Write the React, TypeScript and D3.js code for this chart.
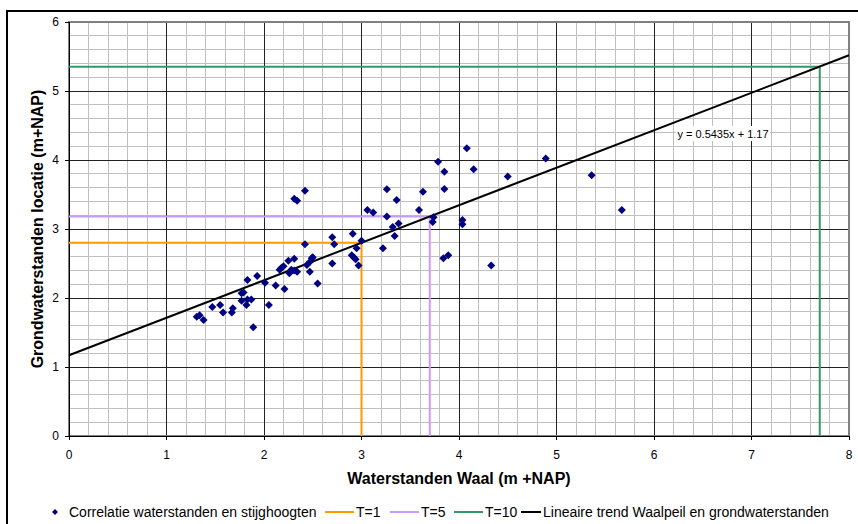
import React from 'react';
import * as d3 from 'd3';

// metingen: waterstand Waal (x) en grondwaterstand locatie (y)
const waalX = [
  1.31, 1.34, 1.38, 1.47, 1.55, 1.58, 1.67, 1.68, 1.77, 1.79, 1.77, 1.82, 1.83, 1.87, 1.83, 1.89,
  1.93, 2.01, 2.05, 2.12, 2.21, 2.16, 2.18, 2.2, 2.25, 2.31, 2.26, 2.28, 2.31, 2.34, 2.31, 2.34,
  2.42, 2.42, 2.44, 2.47, 2.49, 2.5, 2.47, 2.55, 2.7, 2.72, 2.7, 2.91, 2.9, 2.92, 2.94, 2.95,
  2.97, 3.0, 3.06, 3.12, 3.22, 3.26, 3.26, 3.36, 3.32, 3.34, 3.38, 3.59, 3.63, 3.74, 3.73, 3.785,
  3.85, 3.85, 3.84, 3.89, 4.035, 4.035, 4.08, 4.15, 4.33, 4.5, 4.89, 5.36, 5.67,
];
const grondY = [
  1.73, 1.75, 1.68, 1.87, 1.9, 1.79, 1.79, 1.85, 2.07, 2.08, 1.96, 1.9, 1.98, 1.98, 2.26, 1.575,
  2.32, 2.22, 1.9, 2.18, 2.13, 2.41, 2.44, 2.46, 2.54, 2.57, 2.36, 2.41, 2.4, 2.38, 3.44, 3.41,
  3.555, 2.78, 2.48, 2.52, 2.575, 2.59, 2.38, 2.21, 2.88, 2.78, 2.5, 2.93, 2.62, 2.59, 2.56, 2.72,
  2.47, 2.83, 3.275, 3.24, 2.72, 3.575, 3.18, 3.42, 3.03, 2.9, 3.08, 3.275, 3.54, 3.17, 3.1, 3.975,
  3.83, 3.58, 2.575, 2.62, 3.13, 3.07, 4.17, 3.865, 2.47, 3.76, 4.02, 3.78, 3.275,
];

// herhalingstijden
const tLabels = ['T=1', 'T=5', 'T=10'];
const tX = [3.0, 3.7, 7.7];
const tY = [2.8, 3.18, 5.35];
const tColors = ['#FF9900', '#CC99FF', '#339966'];

const trendSlope = 0.5435;
const trendIntercept = 1.17;
const trendLabel = 'y = 0.5435x + 1.17';
const scatterLabel = 'Correlatie waterstanden en stijghoogten';
const trendLegend = 'Lineaire trend Waalpeil en grondwaterstanden';

const xTicks = [0, 1, 2, 3, 4, 5, 6, 7, 8];
const yTicks = [0, 1, 2, 3, 4, 5, 6];

const W = 858;
const H = 524;
const m = { left: 69, right: 849, top: 22, bottom: 436 };
const font = 'Arial, "Liberation Sans", sans-serif';

const diamondPath = (r: number) => `M0,${-r}L${r},0L0,${r}L${-r},0Z`;

export default function App() {
  const x = d3.scaleLinear().domain([0, 8]).range([m.left, m.right]);
  const y = d3.scaleLinear().domain([0, 6]).range([m.bottom, m.top]);

  const minorX = d3.range(0, 8.001, 0.2).filter(v => Math.abs(v - Math.round(v)) > 1e-6);
  const minorY = d3.range(0, 6.001, 0.2).filter(v => Math.abs(v - Math.round(v)) > 1e-6);

  const trend = d3.line<number>().x(d => x(d)).y(d => y(trendSlope * d + trendIntercept));

  // legenda: lijnstukje + tekst
  const legendItems = [
    { text: tLabels[0], lx: 325, len: 29, color: tColors[0] },
    { text: tLabels[1], lx: 390, len: 29, color: tColors[1] },
    { text: tLabels[2], lx: 454, len: 29, color: tColors[2] },
    { text: trendLegend, lx: 521, len: 20, color: '#000' },
  ];
  const ly = 512;

  return (
    <svg width={W} height={H} style={{ position: 'absolute', left: 0, top: 0, background: '#fff' }}
      fontFamily={font}>
      <rect x={7} y={11} width={W + 10} height={H + 10} fill="#fff" stroke="#000" strokeWidth={2} />

      <g shapeRendering="crispEdges">
        {minorX.map(v => (
          <line key={'mx' + v} x1={x(v)} x2={x(v)} y1={m.top} y2={m.bottom} stroke="#c0c0c0" />
        ))}
        {minorY.map(v => (
          <line key={'my' + v} x1={m.left} x2={m.right} y1={y(v)} y2={y(v)} stroke="#c0c0c0" />
        ))}
        {xTicks.map(v => (
          <line key={'gx' + v} x1={x(v)} x2={x(v)} y1={m.top} y2={m.bottom} stroke="#222" />
        ))}
        {yTicks.map(v => (
          <line key={'gy' + v} x1={m.left} x2={m.right} y1={y(v)} y2={y(v)} stroke="#222" />
        ))}
        <rect x={m.left} y={m.top} width={m.right - m.left} height={m.bottom - m.top}
          fill="none" stroke="#808080" strokeWidth={1.5} />
        <line x1={m.left} x2={m.left} y1={m.top} y2={m.bottom} stroke="#000" />
        <line x1={m.left} x2={m.right} y1={m.bottom} y2={m.bottom} stroke="#000" />
        {xTicks.map(v => (
          <line key={'tx' + v} x1={x(v)} x2={x(v)} y1={m.bottom} y2={m.bottom + 4} stroke="#000" />
        ))}
        {yTicks.map(v => (
          <line key={'ty' + v} x1={m.left - 4} x2={m.left} y1={y(v)} y2={y(v)} stroke="#000" />
        ))}
      </g>

      {tX.map((tx, i) => (
        <path key={'t' + i}
          d={`M${x(0)},${y(tY[i])}H${x(tx)}V${y(0)}`}
          fill="none" stroke={tColors[i]} strokeWidth={2} />
      ))}

      <path d={trend([0, 8])!} stroke="#000" strokeWidth={2} fill="none" />

      {waalX.map((v, i) => (
        <path key={'p' + i} d={diamondPath(4)} transform={`translate(${x(v)},${y(grondY[i])})`} fill="#000080" />
      ))}

      <rect x={676} y={126} width={94} height={15} fill="#fff" />
      <text x={723} y={137.5} textAnchor="middle" fontSize={11} fill="#000">{trendLabel}</text>

      {xTicks.map(v => (
        <text key={'lx' + v} x={x(v)} y={459} textAnchor="middle" fontSize={12}>{v}</text>
      ))}
      {yTicks.map(v => (
        <text key={'ly' + v} x={59} y={y(v) + 4} textAnchor="end" fontSize={12}>{v}</text>
      ))}

      <text x={(m.left + m.right) / 2} y={484} textAnchor="middle" fontSize={16} fontWeight="bold">
        Waterstanden Waal (m +NAP)
      </text>
      <text transform={`translate(43,${(m.top + m.bottom) / 2}) rotate(-90)`} textAnchor="middle"
        fontSize={16} fontWeight="bold">
        Grondwaterstanden locatie (m+NAP)
      </text>

      <g fontSize={14}>
        <path d={diamondPath(3)} transform={`translate(55,${ly})`} fill="#000080" />
        <text x={69} y={ly + 5}>{scatterLabel}</text>
        {legendItems.map(it => (
          <g key={it.text}>
            <line x1={it.lx} x2={it.lx + it.len} y1={ly} y2={ly} stroke={it.color} strokeWidth={2} />
            <text x={it.lx + it.len + 2} y={ly + 5}>{it.text}</text>
          </g>
        ))}
      </g>
    </svg>
  );
}
